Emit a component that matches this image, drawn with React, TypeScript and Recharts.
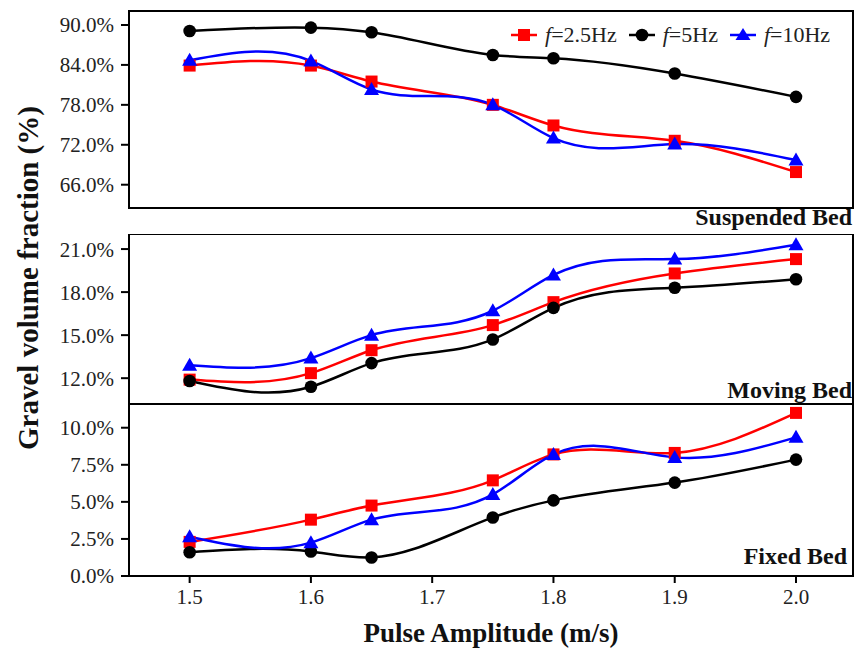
import { LineChart, Line, XAxis, YAxis, ReferenceArea, Legend } from "recharts";

const AMPLITUDE = [1.5, 1.6, 1.65, 1.75, 1.8, 1.9, 2.0];
const X_TICKS = [1.5, 1.6, 1.7, 1.8, 1.9, 2.0];
const X_DOMAIN = [1.45, 2.047];

// Suspended bed (%)
const SUSP_25 = [83.9, 83.9, 81.5, 78.0, 74.9, 72.6, 67.9];
const SUSP_5 = [89.1, 89.6, 88.9, 85.5, 85.0, 82.7, 79.2];
const SUSP_10 = [84.7, 84.6, 80.3, 78.0, 73.0, 72.1, 69.7];
const SUSP_TICKS = [66, 72, 78, 84, 90];

// Moving bed (%)
const MOV_25 = [11.9, 12.35, 13.95, 15.7, 17.3, 19.3, 20.3];
const MOV_5 = [11.8, 11.4, 13.05, 14.7, 16.9, 18.3, 18.9];
const MOV_10 = [12.9, 13.4, 15.0, 16.7, 19.2, 20.3, 21.3];
const MOV_TICKS = [12, 15, 18, 21];

// Fixed bed (%)
const FIX_25 = [2.3, 3.8, 4.75, 6.45, 8.2, 8.3, 11.0];
const FIX_5 = [1.6, 1.65, 1.25, 3.95, 5.1, 6.3, 7.85];
const FIX_10 = [2.65, 2.25, 3.8, 5.5, 8.2, 8.0, 9.35];
const FIX_TICKS = [0, 2.5, 5, 7.5, 10];

const SERIES = [
  { key: "r", name: "2.5Hz", color: "#ff0000" },
  { key: "k", name: "5Hz", color: "#000000" },
  { key: "b", name: "10Hz", color: "#0000ff" },
];

const FONT = "'Liberation Serif', 'Times New Roman', serif";
const W = 855;

const toRows = (a: number[], b: number[], c: number[]) =>
  AMPLITUDE.map((x, i) => ({ x, r: a[i], k: b[i], b: c[i] }));

// natural cubic spline y(x) over uneven x spacing (like the original plot's spline)
function splineX(context: any) {
  let xs: number[] = [];
  let ys: number[] = [];
  return {
    areaStart() {},
    areaEnd() {},
    lineStart() {
      xs = [];
      ys = [];
    },
    point(x: number, y: number) {
      xs.push(+x);
      ys.push(+y);
    },
    lineEnd() {
      const n = xs.length;
      if (n === 0) return;
      context.moveTo(xs[0], ys[0]);
      if (n === 1) return;
      if (n === 2) {
        context.lineTo(xs[1], ys[1]);
        return;
      }
      const h: number[] = [];
      for (let i = 0; i < n - 1; i++) h[i] = xs[i + 1] - xs[i];
      const M = new Array(n).fill(0);
      const bp: number[] = [];
      const rp: number[] = [];
      for (let i = 1; i < n - 1; i++) {
        let b = 2 * (h[i - 1] + h[i]);
        let r = 6 * ((ys[i + 1] - ys[i]) / h[i] - (ys[i] - ys[i - 1]) / h[i - 1]);
        if (i > 1) {
          const w = h[i - 1] / bp[i - 1];
          b -= w * h[i - 1];
          r -= w * rp[i - 1];
        }
        bp[i] = b;
        rp[i] = r;
      }
      for (let i = n - 2; i >= 1; i--) {
        M[i] = (rp[i] - (i < n - 2 ? h[i] * M[i + 1] : 0)) / bp[i];
      }
      const d: number[] = [];
      for (let i = 0; i < n - 1; i++) {
        d[i] = (ys[i + 1] - ys[i]) / h[i] - (h[i] * (2 * M[i] + M[i + 1])) / 6;
      }
      d[n - 1] = (ys[n - 1] - ys[n - 2]) / h[n - 2] + (h[n - 2] * (M[n - 2] + 2 * M[n - 1])) / 6;
      for (let i = 0; i < n - 1; i++) {
        const t = h[i] / 3;
        context.bezierCurveTo(xs[i] + t, ys[i] + d[i] * t, xs[i + 1] - t, ys[i + 1] - d[i + 1] * t, xs[i + 1], ys[i + 1]);
      }
    },
  };
}

function SquareDot(p: any) {
  if (p.cx == null || p.cy == null) return <g key={p.index} />;
  return <rect key={p.index} x={p.cx - 6} y={p.cy - 6} width={12} height={12} fill="#ff0000" />;
}

function TriDot(p: any) {
  if (p.cx == null || p.cy == null) return <g key={p.index} />;
  const { cx, cy } = p;
  return (
    <polygon
      key={p.index}
      points={`${cx},${cy - 7.5} ${cx + 7.5},${cy + 5.5} ${cx - 7.5},${cy + 5.5}`}
      fill="#0000ff"
    />
  );
}

function LegendIcon({ k, color }: { k: string; color: string }) {
  return (
    <svg width={28} height={16} style={{ display: "block" }}>
      <line x1={1} y1={8} x2={27} y2={8} stroke={color} strokeWidth={2.5} />
      {k === "r" && <rect x={8} y={2} width={12} height={12} fill={color} />}
      {k === "k" && <circle cx={14} cy={8} r={6.3} fill={color} />}
      {k === "b" && <polygon points="14,1 21.5,13 6.5,13" fill={color} />}
    </svg>
  );
}

function renderLegend() {
  return (
    <div style={{ display: "flex", alignItems: "center", fontFamily: FONT, fontSize: 22, color: "#222" }}>
      {SERIES.map((s, i) => (
        <div key={s.key} style={{ display: "flex", alignItems: "center", marginLeft: i === 0 ? 0 : 11 }}>
          <LegendIcon k={s.key} color={s.color} />
          <span style={{ marginLeft: 7, whiteSpace: "nowrap" }}>
            <i>f</i>={s.name}
          </span>
        </div>
      ))}
    </div>
  );
}

const pct = (v: number) => `${v.toFixed(1)}%`;

interface PanelProps {
  rows: any[];
  domain: number[];
  ticks: number[];
  height: number;
  top: number;
  showX?: boolean;
  showLegend?: boolean;
}

function Panel({ rows, domain, ticks, height, top, showX = false, showLegend = false }: PanelProps) {
  return (
    <div style={{ position: "absolute", left: 0, top }}>
      <LineChart width={W} height={height} data={rows} margin={{ top: top === 0 ? 11 : 0, right: 2, bottom: 0, left: 0 }}>
        <XAxis
          dataKey="x"
          type="number"
          domain={X_DOMAIN}
          ticks={X_TICKS}
          hide={!showX}
          height={75}
          tickFormatter={(v: number) => v.toFixed(1)}
          tick={{ fill: "#222", fontSize: 21, fontFamily: FONT }}
          tickSize={7}
          tickMargin={6}
          axisLine={{ stroke: "#000", strokeWidth: 2 }}
          tickLine={{ stroke: "#000", strokeWidth: 2 }}
          label={
            showX
              ? {
                  value: "Pulse Amplitude (m/s)",
                  position: "insideBottom",
                  offset: 9,
                  style: { fontFamily: FONT, fontSize: 27, fontWeight: "bold", fill: "#111" },
                }
              : undefined
          }
        />
        <YAxis
          type="number"
          domain={domain}
          ticks={ticks}
          width={129}
          tickFormatter={pct}
          tick={{ fill: "#222", fontSize: 21, fontFamily: FONT }}
          tickSize={8}
          tickMargin={7}
          axisLine={{ stroke: "#000", strokeWidth: 2 }}
          tickLine={{ stroke: "#000", strokeWidth: 2 }}
        />
        <ReferenceArea
          x1={X_DOMAIN[0]}
          x2={X_DOMAIN[1]}
          y1={domain[0]}
          y2={domain[1]}
          fill="none"
          fillOpacity={0}
          stroke="#000"
          strokeWidth={2}
        />
        {showLegend && (
          <Legend
            content={renderLegend}
            wrapperStyle={{ position: "absolute", top: 22, left: 510, width: 345 }}
          />
        )}
        <Line
          type={splineX as any}
          dataKey="r"
          name="2.5Hz"
          stroke="#ff0000"
          strokeWidth={2.5}
          dot={SquareDot}
          isAnimationActive={false}
        />
        <Line
          type={splineX as any}
          dataKey="k"
          name="5Hz"
          stroke="#000000"
          strokeWidth={2.5}
          dot={{ r: 6.3, fill: "#000", stroke: "#000", strokeWidth: 0 }}
          isAnimationActive={false}
        />
        <Line
          type={splineX as any}
          dataKey="b"
          name="10Hz"
          stroke="#0000ff"
          strokeWidth={2.5}
          dot={TriDot}
          isAnimationActive={false}
        />
      </LineChart>
    </div>
  );
}

const bedLabel = (text: string, top: number, right: number) => (
  <div
    style={{
      position: "absolute",
      top,
      right,
      fontFamily: FONT,
      fontWeight: "bold",
      fontSize: 24,
      lineHeight: "24px",
      color: "#111",
      whiteSpace: "nowrap",
    }}
  >
    {text}
  </div>
);

export default function App() {
  return (
    <div style={{ position: "absolute", left: 0, top: 0, width: W, height: 651, background: "#fff", overflow: "hidden" }}>
      <Panel rows={toRows(SUSP_25, SUSP_5, SUSP_10)} domain={[62.5, 92.1]} ticks={SUSP_TICKS} height={234} top={0} showLegend />
      <Panel rows={toRows(MOV_25, MOV_5, MOV_10)} domain={[10.2, 22.05]} ticks={MOV_TICKS} height={170} top={234} />
      <Panel rows={toRows(FIX_25, FIX_5, FIX_10)} domain={[0, 11.6]} ticks={FIX_TICKS} height={247} top={404} showX />
      {bedLabel("Suspended Bed", 205, 3)}
      {bedLabel("Moving Bed", 378, 3)}
      {bedLabel("Fixed Bed", 544, 8)}
      <div
        style={{
          position: "absolute",
          left: 28,
          top: 278,
          transform: "translate(-50%, -50%) rotate(-90deg)",
          fontFamily: FONT,
          fontWeight: "bold",
          fontSize: 29,
          lineHeight: "29px",
          color: "#111",
          whiteSpace: "nowrap",
        }}
      >
        Gravel volume fraction (%)
      </div>
    </div>
  );
}
